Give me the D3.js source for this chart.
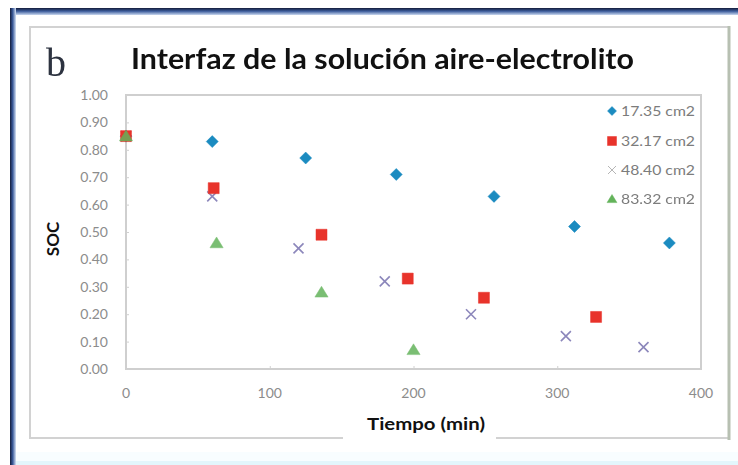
<!DOCTYPE html>
<html>
<head>
<meta charset="utf-8">
<script src="https://cdn.jsdelivr.net/npm/d3@7"></script>
<style>
  html, body { margin: 0; padding: 0; background: #ffffff; }
  svg { display: block; }
</style>
</head>
<body>
<svg id="chart" width="738" height="465"></svg>
<script>
// Time (min) and SOC readings for each electrode area
const seriesNames = ["17.35 cm2", "32.17 cm2", "48.40 cm2", "83.32 cm2"];
const timeA = [0, 60, 125, 188, 256, 312, 378];
const socA  = [0.85, 0.83, 0.77, 0.71, 0.63, 0.52, 0.46];
const timeB = [0, 61, 136, 196, 249, 327];
const socB  = [0.85, 0.66, 0.49, 0.33, 0.26, 0.19];
const timeC = [0, 60, 120, 180, 240, 306, 360];
const socC  = [0.85, 0.63, 0.44, 0.32, 0.20, 0.12, 0.08];
const timeD = [0, 63, 136, 200];
const socD  = [0.85, 0.46, 0.28, 0.07];
const xTicks = [0, 100, 200, 300, 400];
const yTicks = [0, 0.1, 0.2, 0.3, 0.4, 0.5, 0.6, 0.7, 0.8, 0.9, 1.0];

const svg = d3.select("#chart");
const W = 738, H = 465;

// Window-like frame
const defs = svg.append("defs");
const gTop = defs.append("linearGradient").attr("id", "topBand").attr("x1", 0).attr("y1", 0).attr("x2", 0).attr("y2", 1);
gTop.append("stop").attr("offset", "0").attr("stop-color", "#141c3a");
gTop.append("stop").attr("offset", "0.45").attr("stop-color", "#3a5a9a");
gTop.append("stop").attr("offset", "1").attr("stop-color", "#c9d8f0");
const gLeft = defs.append("linearGradient").attr("id", "leftBand").attr("x1", 0).attr("y1", 0).attr("x2", 1).attr("y2", 0);
gLeft.append("stop").attr("offset", "0").attr("stop-color", "#141c3a");
gLeft.append("stop").attr("offset", "0.45").attr("stop-color", "#3a5a9a");
gLeft.append("stop").attr("offset", "1").attr("stop-color", "#d6e2f5");

svg.append("rect").attr("x", 0).attr("y", 0).attr("width", W).attr("height", H).attr("fill", "#ffffff");
svg.append("rect").attr("x", 10).attr("y", 8).attr("width", W - 10).attr("height", 7).attr("fill", "url(#topBand)");
svg.append("rect").attr("x", 10).attr("y", 8).attr("width", 6).attr("height", H - 8).attr("fill", "url(#leftBand)");
svg.append("rect").attr("x", 16).attr("y", 452).attr("width", W - 16).attr("height", 13).attr("fill", "#f8fdff");
svg.append("rect").attr("x", 16).attr("y", 461).attr("width", W - 16).attr("height", 4).attr("fill", "#e3f6fc");

// Chart area box
svg.append("rect").attr("x", 30).attr("y", 27).attr("width", 699).attr("height", 411)
  .attr("fill", "#ffffff").attr("stroke", "#d2d2d2").attr("stroke-width", 2);
svg.append("line").attr("x1", 729).attr("x2", 729).attr("y1", 26).attr("y2", 440)
  .attr("stroke", "#b7c0b2").attr("stroke-width", 3);

// Scales
const x = d3.scaleLinear().domain([0, 400]).range([126, 701]);
const y = d3.scaleLinear().domain([0, 1]).range([369, 95]);

// Plot frame
const frame = svg.append("g").attr("stroke", "#cfcfcf").attr("stroke-width", 2).attr("fill", "none");
frame.append("rect").attr("x", x(0)).attr("y", y(1)).attr("width", x(400) - x(0)).attr("height", y(0) - y(1));

// Y axis
const yAxis = svg.append("g").attr("transform", `translate(${x(0)},0)`)
  .call(d3.axisRight(y).tickValues(yTicks).tickSize(3).tickFormat(""));
yAxis.select(".domain").remove();
yAxis.selectAll("line").attr("stroke", "#d0d0d0");
svg.append("g").selectAll("text").data(yTicks).join("text")
  .attr("x", 108).attr("y", d => y(d)).attr("dy", "0.35em")
  .attr("text-anchor", "end")
  .attr("font-family", "Lato, 'Open Sans', sans-serif").attr("font-size", 14)
  .attr("fill", "#8c8c8c")
  .text(d => d3.format(".2f")(d));

// X axis
const xAxis = svg.append("g").attr("transform", `translate(0,${y(0)})`)
  .call(d3.axisTop(x).tickValues(xTicks.slice(1, 4)).tickSize(3).tickFormat(""));
xAxis.select(".domain").remove();
xAxis.selectAll("line").attr("stroke", "#d0d0d0");
svg.append("g").selectAll("text").data(xTicks).join("text")
  .attr("x", d => x(d)).attr("y", 393).attr("dy", "0.35em")
  .attr("text-anchor", "middle")
  .attr("font-family", "Lato, 'Open Sans', sans-serif").attr("font-size", 14)
  .attr("fill", "#8c8c8c")
  .text(d => d);

// Marker shapes
const colors = ["#1b8bc0", "#e8332b", "#8c87bb", "#63b35a"];
const marker = {
  diamond: r => `M0,${-r}L${r},0L0,${r}L${-r},0Z`,
  square: r => `M${-r},${-r}H${r}V${r}H${-r}Z`,
  cross: r => `M${-r},${-r}L${r},${r}M${r},${-r}L${-r},${r}`,
  triangle: r => `M0,${-r}L${r * 1.1},${r * 0.8}L${-r * 1.1},${r * 0.8}Z`
};

function drawSeries(times, socs, kind, color, r, opacity) {
  const pts = times.map((t, i) => ({ t, v: socs[i] }));
  const g = svg.append("g").attr("opacity", opacity);
  g.selectAll("path").data(pts).join("path")
    .attr("transform", d => `translate(${x(d.t)},${y(d.v)})`)
    .attr("d", marker[kind](r))
    .attr("fill", kind === "cross" ? "none" : color)
    .attr("stroke", color)
    .attr("stroke-width", kind === "cross" ? 1.6 : 0.5);
}

drawSeries(timeA, socA, "diamond", colors[0], 6, 1);
drawSeries(timeC, socC, "cross", colors[2], 5, 1);
drawSeries(timeB, socB, "square", colors[1], 5.5, 1);
drawSeries(timeD, socD, "triangle", colors[3], 6, 0.85);

// Legend
const legendKinds = ["diamond", "square", "cross", "triangle"];
const legendY = [111, 141, 170, 199];
const lg = svg.append("g");
seriesNames.forEach((name, i) => {
  lg.append("path")
    .attr("transform", `translate(612,${legendY[i]})`)
    .attr("d", marker[legendKinds[i]](i === 2 ? 4 : 4.5))
    .attr("fill", legendKinds[i] === "cross" ? "none" : colors[i])
    .attr("stroke", i === 2 ? "#b5b5b5" : colors[i])
    .attr("stroke-width", i === 2 ? 1 : 0.5);
  lg.append("text")
    .attr("x", 621).attr("y", legendY[i]).attr("dy", "0.35em")
    .attr("font-family", "Lato, 'Open Sans', sans-serif").attr("font-size", 13.5)
    .attr("fill", "#7c7c7c")
    .attr("textLength", 74).attr("lengthAdjust", "spacingAndGlyphs")
    .text(name);
});

// Panel letter and title
svg.append("text").attr("x", 46).attr("y", 76)
  .attr("font-family", "'Liberation Serif', 'DejaVu Serif', serif").attr("font-size", 40)
  .attr("fill", "#2d3340").text("b");
svg.append("text").attr("x", 131).attr("y", 69)
  .attr("font-family", "Lato, 'Open Sans', sans-serif").attr("font-weight", 700).attr("font-size", 28)
  .attr("fill", "#111111")
  .attr("textLength", 503).attr("lengthAdjust", "spacingAndGlyphs")
  .text("Interfaz de la solución aire-electrolito");

// Axis titles
svg.append("text")
  .attr("transform", "translate(59,239) rotate(-90)")
  .attr("text-anchor", "middle")
  .attr("font-family", "Lato, 'Open Sans', sans-serif").attr("font-weight", 700).attr("font-size", 17)
  .attr("fill", "#111111").text("SOC");

svg.append("rect").attr("x", 343).attr("y", 404).attr("width", 153).attr("height", 42).attr("fill", "#ffffff");
svg.append("text")
  .attr("x", 426).attr("y", 424).attr("dy", "0.35em")
  .attr("text-anchor", "middle")
  .attr("font-family", "Lato, 'Open Sans', sans-serif").attr("font-weight", 700).attr("font-size", 17)
  .attr("fill", "#111111")
  .attr("textLength", 118).attr("lengthAdjust", "spacingAndGlyphs")
  .text("Tiempo (min)");
</script>
</body>
</html>
